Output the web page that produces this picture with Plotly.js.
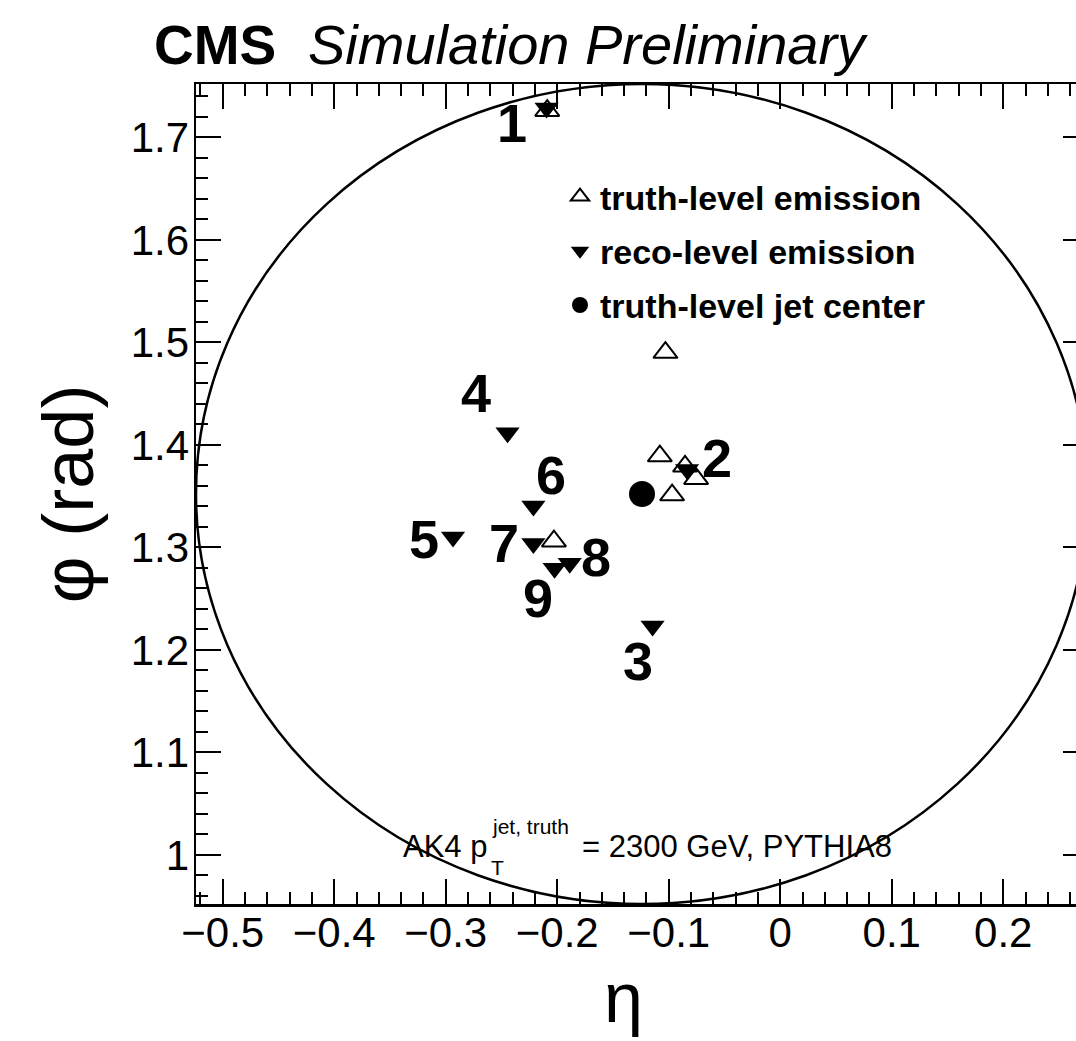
<!DOCTYPE html>
<html><head><meta charset="utf-8">
<script src="https://cdn.plot.ly/plotly-3.0.1.min.js"></script>
<style>html,body{margin:0;padding:0;overflow:hidden;background:#fff;width:1076px;height:1041px}</style>
</head><body><div id="chart" style="width:1092px;height:1041px"></div>
<script>
// ---- data ----
const truthEta = [-0.209, -0.103, -0.108, -0.097, -0.0755, -0.0854, -0.203];
const truthPhi = [1.726, 1.490, 1.389, 1.351, 1.367, 1.379, 1.306];
const recoEta = [-0.2096, -0.0836, -0.1145, -0.2446, -0.2935, -0.2214, -0.2214, -0.1888, -0.2024];
const recoPhi = [1.7285, 1.376, 1.2231, 1.4117, 1.3101, 1.3402, 1.3037, 1.2845, 1.2796];
const recoLabels = ['1','2','3','4','5','6','7','8','9'];
const jetEta = [-0.124];
const jetPhi = [1.352];
const coneR = 0.4;
const xTickVals = [-0.5,-0.4,-0.3,-0.2,-0.1,0,0.1,0.2];
const xTickText = ['\u22120.5','\u22120.4','\u22120.3','\u22120.2','\u22120.1','0','0.1','0.2'];
const yTickVals = [1,1.1,1.2,1.3,1.4,1.5,1.6,1.7];
const yTickText = ['1','1.1','1.2','1.3','1.4','1.5','1.6','1.7'];
const legendNames = ['truth-level emission','reco-level emission','truth-level jet center'];

// ---- label placement (pixel offsets from each reco point) ----
const labelDx = [-35, 30, -14.5, -31.5, -29, 17.5, -29, 26, -16.5];
const labelDy = [15, -11, 35, -39.5, 2, -31, -1, -6, 29.5];

const FONT = 'Liberation Sans, Arial, Helvetica, sans-serif';
const W = 1092, H = 1041;
const mL = 196, mR = 4, mT = 84, mB = 137;
const pw = W - mL - mR, ph = H - mT - mB;
const px2x = p => (p - mL) / pw;
const px2y = p => (H - mB - p) / ph;

const traces = [
  {type:'scatter', mode:'markers', x:truthEta, y:truthPhi, name:legendNames[0], legendgroup:'a',
   marker:{symbol:'triangle-up-open', size:21, color:'#000', line:{width:2, color:'#000'}}, cliponaxis:false},
  {type:'scatter', mode:'markers', x:recoEta, y:recoPhi, name:legendNames[1], legendgroup:'b',
   marker:{symbol:'triangle-down', size:21, color:'#000', line:{width:0}}, cliponaxis:false},
  {type:'scatter', mode:'markers', x:jetEta, y:jetPhi, name:legendNames[2], legendgroup:'c',
   marker:{symbol:'circle', size:26, color:'#000', line:{width:0}}, cliponaxis:false}
];

const annotations = recoLabels.map((t,i) => ({
  x: recoEta[i], y: recoPhi[i], xref:'x', yref:'y', text:t, showarrow:false,
  xshift: labelDx[i], yshift: -labelDy[i], xanchor:'center', yanchor:'middle',
  font:{family:FONT, size:54, weight:'bold', color:'#000'}
}));
annotations.push(
  {xref:'paper', yref:'paper', x:px2x(152), y:px2y(45), xanchor:'left', yanchor:'middle', showarrow:false,
   text:'CMS', font:{family:FONT, size:55, weight:'bold', color:'#000'}},
  {xref:'paper', yref:'paper', x:px2x(306), y:px2y(45), xanchor:'left', yanchor:'middle', showarrow:false,
   text:'Simulation Preliminary', font:{family:FONT, size:56, style:'italic', color:'#000'}},
  {xref:'paper', yref:'paper', x:px2x(489), y:px2y(846), xanchor:'right', yanchor:'middle', showarrow:false,
   text:'AK4 p', font:{family:FONT, size:31, color:'#000'}},
  {xref:'paper', yref:'paper', x:px2x(490), y:px2y(826), xanchor:'left', yanchor:'middle', showarrow:false,
   text:'jet, truth', font:{family:FONT, size:21, color:'#000'}},
  {xref:'paper', yref:'paper', x:px2x(489), y:px2y(867), xanchor:'left', yanchor:'middle', showarrow:false,
   text:'T', font:{family:FONT, size:21, color:'#000'}},
  {xref:'paper', yref:'paper', x:px2x(580), y:px2y(846), xanchor:'left', yanchor:'middle', showarrow:false,
   text:'= 2300 GeV, PYTHIA8', font:{family:FONT, size:31, color:'#000'}},
  {xref:'paper', yref:'paper', x:px2x(623), y:px2y(998), xanchor:'center', yanchor:'middle', showarrow:false,
   text:'\u03b7', font:{family:FONT, size:70, color:'#000'}}
);

const axisCommon = {
  ticks:'inside', ticklen:25, tickwidth:2, tickcolor:'#000',
  showline:true, linewidth:2.5, linecolor:'#000', mirror:'allticks',
  showgrid:false, zeroline:false, tickmode:'array',
  tickfont:{family:FONT, size:42, color:'#000'},
  minor:{ticks:'inside', ticklen:12, tickwidth:2, tickcolor:'#000', tickmode:'linear', tick0:0, dtick:0.02, showgrid:false}
};

const layout = {
  width:W, height:H,
  margin:{l:mL, r:mR, t:mT, b:mB, pad:0},
  paper_bgcolor:'#fff', plot_bgcolor:'#fff',
  font:{family:FONT, color:'#000'},
  showlegend:true,
  legend:{x:px2x(560), y:px2y(168), xanchor:'left', yanchor:'top', bgcolor:'rgba(0,0,0,0)', borderwidth:0,
          font:{family:FONT, size:34, weight:'bold', color:'#000'}, tracegroupgap:7, itemsizing:'trace'},
  xaxis:Object.assign({}, axisCommon, {
    range:[jetEta[0]-coneR, jetEta[0]+coneR], tickvals:xTickVals, ticktext:xTickText,
    ticklabelstandoff:-10
  }),
  yaxis:Object.assign({}, axisCommon, {
    range:[jetPhi[0]-coneR, jetPhi[0]+coneR], tickvals:yTickVals, ticktext:yTickText,
    ticklabelstandoff:-4,
    title:{text:'\u03c6 (rad)', font:{family:FONT, size:72, color:'#000'}, standoff:14}
  }),
  shapes:[{type:'circle', xref:'x', yref:'y',
    x0:jetEta[0]-coneR, x1:jetEta[0]+coneR, y0:jetPhi[0]-coneR, y1:jetPhi[0]+coneR,
    line:{color:'#000', width:2.5}, layer:'below'}],
  annotations:annotations
};

Plotly.newPlot('chart', traces, layout, {displayModeBar:false, staticPlot:true});
</script></body></html>
